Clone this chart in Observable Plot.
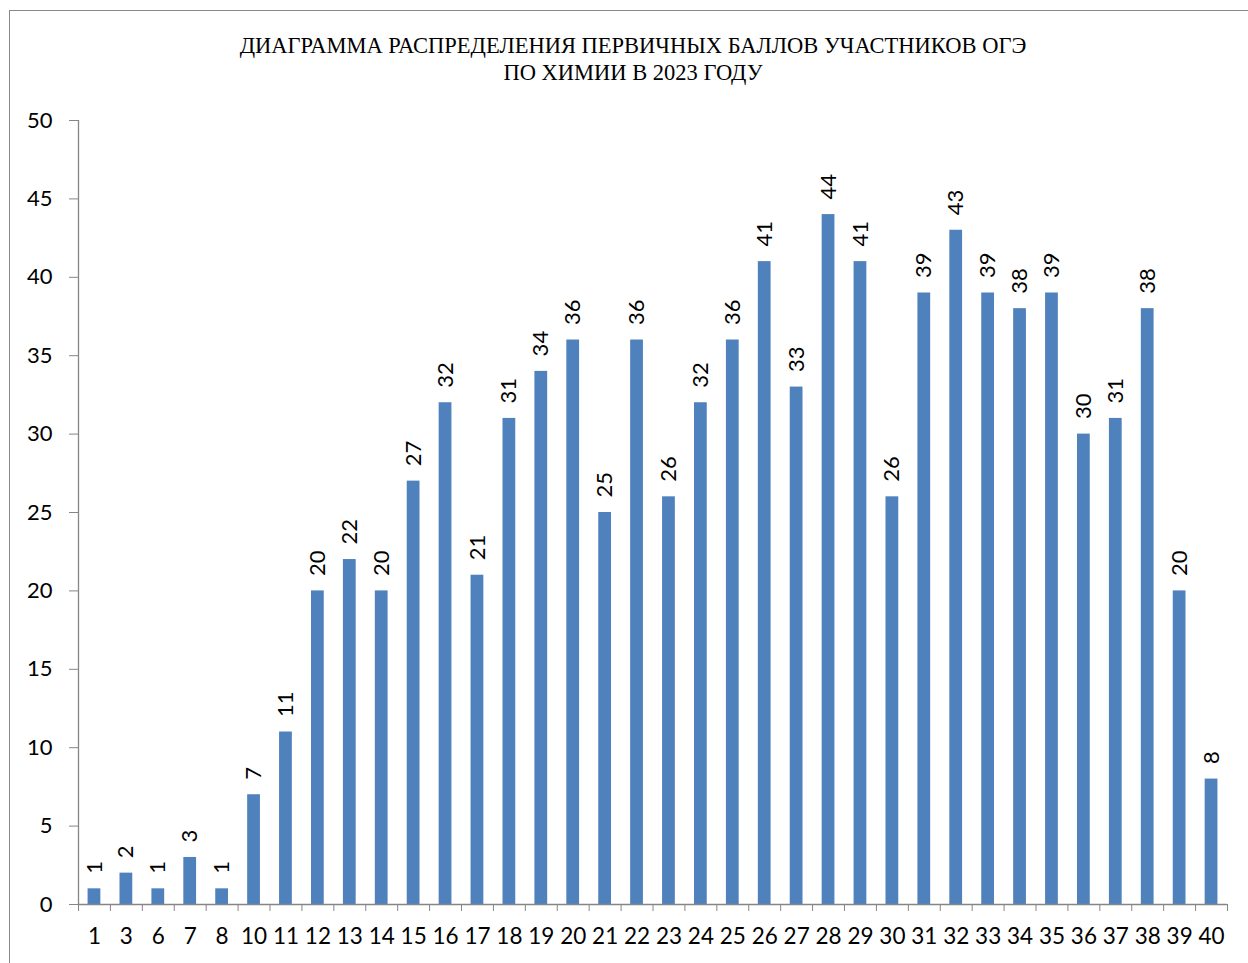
<!DOCTYPE html>
<html>
<head>
<meta charset="utf-8">
<script src="https://cdn.jsdelivr.net/npm/d3@7"></script>
<script src="https://cdn.jsdelivr.net/npm/@observablehq/plot@0.6"></script>
<style>
  html, body { margin: 0; padding: 0; background: #fff; width: 1248px; height: 963px; overflow: hidden; }
  #frame { position: absolute; left: 9px; top: 10px; width: 1300px; height: 1000px;
           border-left: 1px solid #888; border-top: 1px solid #888; }
  #title { position: absolute; left: 0; top: 32px; width: 1266px; text-align: center;
           font-family: "Liberation Serif", serif; font-size: 22.5px; line-height: 27px; color: #000; }
  #chart { position: absolute; left: 0; top: 100px; }
</style>
</head>
<body>
<div id="frame"></div>
<div id="title">ДИАГРАММА РАСПРЕДЕЛЕНИЯ ПЕРВИЧНЫХ БАЛЛОВ УЧАСТНИКОВ ОГЭ<br>ПО ХИМИИ В 2023 ГОДУ</div>
<div id="chart"></div>
<script>
const scores = ["1","3","6","7","8","10","11","12","13","14","15","16","17","18","19","20","21","22","23","24","25","26","27","28","29","30","31","32","33","34","35","36","37","38","39","40"];
const counts = [1,2,1,3,1,7,11,20,22,20,27,32,21,31,34,36,25,36,26,32,36,41,33,44,41,26,39,43,39,38,39,30,31,38,20,8];
const yTicks = [0,5,10,15,20,25,30,35,40,45,50];

const data = scores.map((s, i) => ({score: s, count: counts[i]}));

const W = 1248, H = 863, mL = 78, mR = 21;
const step = (W - mL - mR) / scores.length;
const axisGray = "#868686";
const font = "Lato, 'Open Sans', sans-serif";

const plot = Plot.plot({
  width: W,
  height: H,
  marginLeft: mL,
  marginRight: mR,
  marginTop: 20,
  marginBottom: 59,
  style: {fontFamily: font, fontSize: "22px", color: "#000", background: "transparent"},
  x: {domain: scores, paddingInner: 0.6, paddingOuter: 0.3, label: null},
  y: {domain: [0, 50], label: null},
  marks: [
    Plot.barY(data, {x: "score", y: "count", fill: "#4F81BD"}),
    Plot.text(data, {x: "score", y: "count", text: d => String(d.count), rotate: -90,
                     textAnchor: "start", dy: -15, fontSize: 22, fill: "#000"}),
    Plot.ruleY([0], {stroke: axisGray, strokeWidth: 1.3}),
    Plot.ruleX([scores[0]], {y1: 0, y2: 50, dx: -step / 2, stroke: axisGray, strokeWidth: 1.3}),
    Plot.axisY({ticks: yTicks, tickSize: 9, tickPadding: 17, stroke: axisGray, fill: "#000", fontSize: 22, label: null, tickFormat: d => String(d)}),
    Plot.axisX({ticks: scores, tickSize: 0, tickPadding: 24, fill: "#000", fontSize: 22.5, label: null}),
    Plot.axisX({ticks: scores, tickSize: 7, text: null, dx: -step / 2, stroke: axisGray, label: null}),
    Plot.axisX({ticks: [scores[scores.length - 1]], tickSize: 7, text: null, dx: step / 2, stroke: axisGray, label: null})
  ]
});
document.getElementById("chart").appendChild(plot);
</script>
</body>
</html>
